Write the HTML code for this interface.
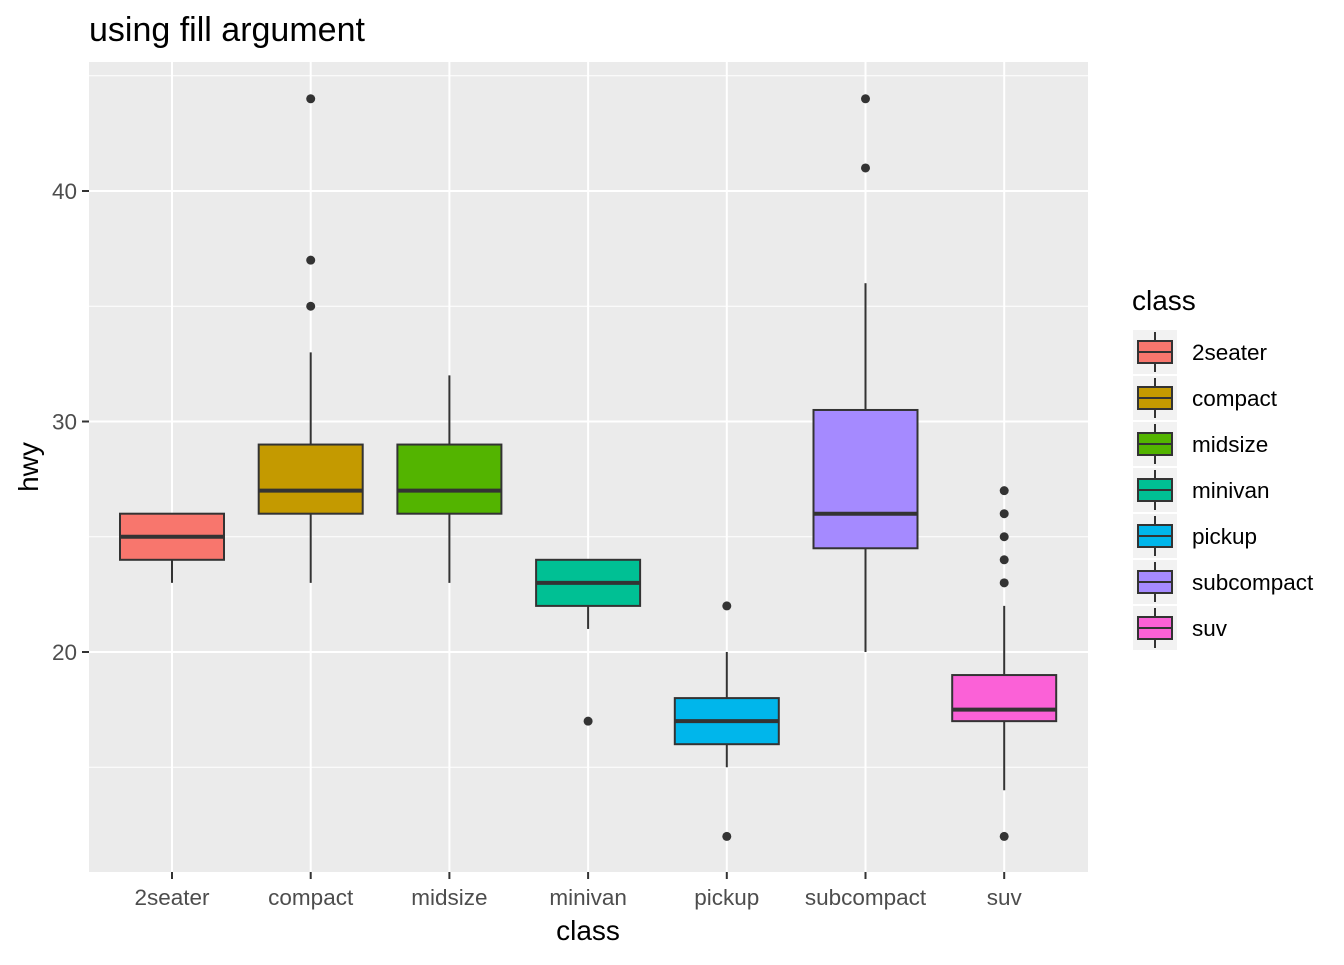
<!DOCTYPE html>
<html><head><meta charset="utf-8"><style>
body{margin:0;background:#fff;width:1344px;height:960px;overflow:hidden}
text{font-family:"Liberation Sans",Arial,sans-serif}
</style></head><body>
<svg id="chart" width="1344" height="960">
<text x="89" y="41" font-size="34" fill="#000">using fill argument</text>
<rect x="89" y="62" width="999" height="810" fill="#ebebeb"/>
<g id="grid"></g><g id="boxes"></g><g id="axes"></g><g id="legend"></g>
<text x="588" y="940" font-size="28" text-anchor="middle">class</text>
<text transform="translate(38,467) rotate(-90)" font-size="28" text-anchor="middle">hwy</text>
</svg>
<script>
const categories=["2seater","compact","midsize","minivan","pickup","subcompact","suv"];
const lows=[23,23,23,21,15,20,14];
const q1s=[24,26,26,22,16,24.5,17];
const medians=[25,27,27,23,17,26,17.5];
const q3s=[26,29,29,24,18,30.5,19];
const highs=[26,33,32,24,20,36,22];
const outliers=[[],[35,37,44],[],[17],[12,22],[41,44],[12,23,24,25,26,27]];
const colors=["#F8766D","#C49A00","#53B400","#00C094","#00B6EB","#A58AFF","#FB61D7"];
const yTicks=[20,30,40];
const yMinor=[15,25,35,45];
const NS="http://www.w3.org/2000/svg";
const y=v=>652-(v-20)*23.05;
const x=i=>172+i*138.7;
function mk(tag,attrs,parent,txt){const e=document.createElementNS(NS,tag);for(const k in attrs)e.setAttribute(k,attrs[k]);if(txt!==undefined)e.textContent=txt;parent.appendChild(e);return e;}
const G=document.getElementById('grid'),B=document.getElementById('boxes'),A=document.getElementById('axes'),L=document.getElementById('legend');
yMinor.forEach(v=>{const l=mk('line',{x1:89,x2:1088,y1:y(v),y2:y(v),stroke:'#fff','stroke-width':1},G);

});
yTicks.forEach(v=>{const l=mk('line',{x1:89,x2:1088,y1:y(v),y2:y(v),stroke:'#fff','stroke-width':2},G);


mk('line',{x1:82,x2:89,y1:y(v),y2:y(v),stroke:'#333','stroke-width':2},A);
const t=mk('text',{x:77,y:y(v)+8,'font-size':22.5,fill:'#4d4d4d','text-anchor':'end'},A,v);

});
categories.forEach((c,i)=>{const cx=x(i);
mk('line',{x1:cx,x2:cx,y1:62,y2:872,stroke:'#fff','stroke-width':2},G);
const g=mk('g',{},B);


mk('line',{x1:cx,x2:cx,y1:y(highs[i]),y2:y(q3s[i]),stroke:'#333','stroke-width':2},g);
mk('line',{x1:cx,x2:cx,y1:y(q1s[i]),y2:y(lows[i]),stroke:'#333','stroke-width':2},g);
mk('rect',{x:cx-52,y:y(q3s[i]),width:104,height:y(q1s[i])-y(q3s[i]),fill:colors[i],stroke:'#333','stroke-width':2},g);
mk('line',{x1:cx-52,x2:cx+52,y1:y(medians[i]),y2:y(medians[i]),stroke:'#333','stroke-width':4},g);
outliers[i].forEach(o=>{const p=mk('circle',{cx:cx,cy:y(o),r:4.5,fill:'#333'},g);

});
mk('line',{x1:cx,x2:cx,y1:872,y2:879,stroke:'#333','stroke-width':2},A);
const t=mk('text',{x:cx,y:905,'font-size':22.5,fill:'#4d4d4d','text-anchor':'middle'},A,c);


const ky=330+i*46;
const le=mk('g',{},L);


mk('rect',{x:1133,y:ky,width:44,height:44,fill:'#f2f2f2'},le);
mk('line',{x1:1155,x2:1155,y1:ky+2,y2:ky+42,stroke:'#333','stroke-width':2},le);
mk('rect',{x:1138,y:ky+11,width:34,height:22,fill:colors[i],stroke:'#333','stroke-width':2},le);
mk('line',{x1:1138,x2:1172,y1:ky+22,y2:ky+22,stroke:'#333','stroke-width':2},le);
mk('text',{x:1192,y:ky+30,'font-size':22.5,fill:'#000'},le,c);});
const lt=mk('text',{x:1132,y:310,'font-size':28,fill:'#000'},L,'class');


</script>
</body></html>
